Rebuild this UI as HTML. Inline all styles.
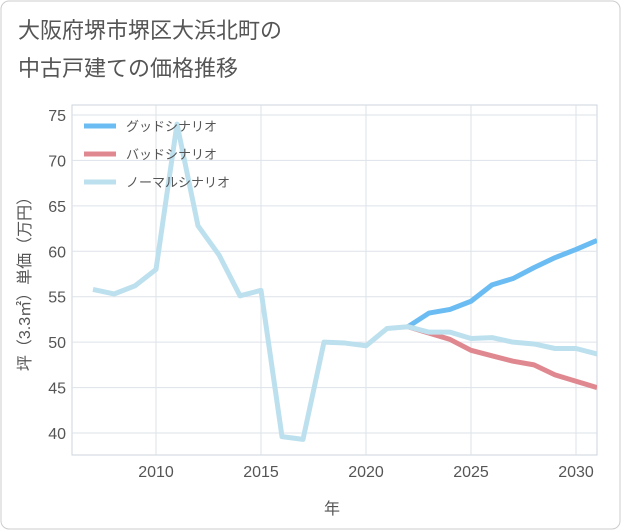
<!DOCTYPE html>
<html><head><meta charset="utf-8"><style>
body{margin:0;background:#fff;font-family:"Liberation Sans","Noto Sans CJK JP",sans-serif}
#wrap{position:relative;width:621px;height:530px;overflow:hidden}
</style></head><body>
<div id="wrap">
<svg id="chart" width="621" height="530">
<rect x="1" y="1" width="619" height="528" rx="8" fill="#fff" stroke="#ccc"/>
<text x="18" y="38" font-size="22" fill="#555">大阪府堺市堺区大浜北町の</text>
<text x="18" y="76" font-size="22" fill="#555">中古戸建ての価格推移</text>
<g id="grid"></g><g id="series"></g><g id="legend"></g>
<text x="332" y="514" font-size="16" fill="#555" text-anchor="middle">年</text>
<text transform="translate(30,280) rotate(-90)" font-size="16" fill="#555" text-anchor="middle">坪（3.3㎡）単価（万円）</text>
</svg></div>
<script>
const years=[2007,2008,2009,2010,2011,2012,2013,2014,2015,2016,2017,2018,2019,2020,2021,2022,2023,2024,2025,2026,2027,2028,2029,2030,2031];
const normal=[55.8,55.3,56.2,58,74,62.8,59.6,55.1,55.7,39.6,39.3,50,49.9,49.6,51.5,51.7,51.1,51.1,50.4,50.5,50,49.8,49.3,49.3,48.7];
const goodYears=[2022,2023,2024,2025,2026,2027,2028,2029,2030,2031];
const good=[51.7,53.2,53.6,54.5,56.3,57,58.2,59.3,60.2,61.2];
const bad=[51.7,51,50.3,49.1,48.5,47.9,47.5,46.4,45.7,45];
const xTicks=[2010,2015,2020,2025,2030];
const yTicks=[40,45,50,55,60,65,70,75];
const L=72,R=597,T=105,B=455;
const x=v=>156+(v-2010)*21;
const y=v=>115+(75-v)*(318/35);
const NS='http://www.w3.org/2000/svg';
function mk(t,a,p){const e=document.createElementNS(NS,t);for(const k in a)e.setAttribute(k,a[k]);p.appendChild(e);return e;}
const g=document.getElementById('grid');
const bg=mk('rect',{x:L,y:T,width:R-L,height:B-T,fill:'none',stroke:'#ccd4dc'},g);


yTicks.forEach(v=>{const l=mk('line',{x1:L,x2:R,y1:y(v),y2:y(v),stroke:'#dde3ea'},g);


const t=mk('text',{x:L-6,y:y(v)+6,'font-size':16,fill:'#555','text-anchor':'end'},g);t.textContent=v;

});
xTicks.forEach(v=>{const l=mk('line',{x1:x(v),x2:x(v),y1:T,y2:B,stroke:'#dde3ea'},g);


const t=mk('text',{x:x(v),y:B+22,'font-size':16,fill:'#555','text-anchor':'middle'},g);t.textContent=v;

});
const s=document.getElementById('series');
function line(xs,vs,c,name){const p=mk('polyline',{points:xs.map((yr,i)=>x(yr)+','+y(vs[i])).join(' '),fill:'none',stroke:c,'stroke-width':5,'stroke-linejoin':'round'},s);

}
line(goodYears,good,'#6bbcf2','good-scenario-line');
line(goodYears,bad,'#e08890','bad-scenario-line');
line(years,normal,'#bde0ee','normal-scenario-line');
s.setAttribute('clip-path','url(#clip)');
const cp=mk('clipPath',{id:'clip'},document.getElementById('chart'));mk('rect',{x:L,y:T,width:R-L,height:B-T},cp);
const lg=document.getElementById('legend');
[['グッドシナリオ','#6bbcf2'],['バッドシナリオ','#e08890'],['ノーマルシナリオ','#bde0ee']].forEach((d,i)=>{
const yy=126+i*28;
const l=mk('line',{x1:84,x2:116,y1:yy,y2:yy,stroke:d[1],'stroke-width':5},lg);


const t=mk('text',{x:126,y:yy+5,'font-size':13,fill:'#555'},lg);t.textContent=d[0];

});
</script></body></html>
